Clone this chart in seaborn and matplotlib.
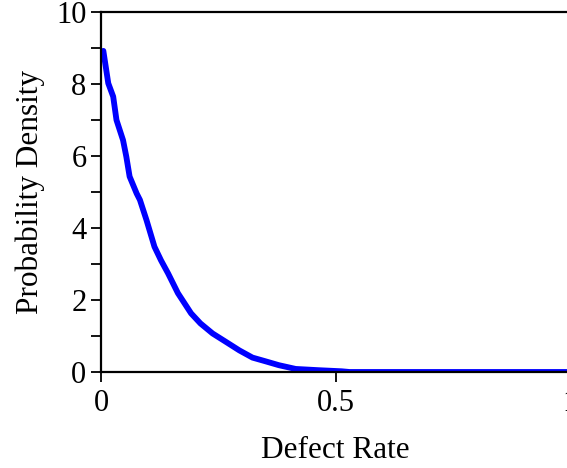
import matplotlib
matplotlib.use("Agg")
import matplotlib.pyplot as plt
import seaborn as sns
import pandas as pd
from matplotlib.ticker import MultipleLocator

sns.set_style("ticks")
plt.rcParams['font.family'] = ['Liberation Serif', 'DejaVu Serif']
plt.rcParams['text.color'] = 'black'
plt.rcParams['axes.labelcolor'] = 'black'
plt.rcParams['xtick.color'] = 'black'
plt.rcParams['ytick.color'] = 'black'

defect_rate = [0.005, 0.0155, 0.026, 0.033, 0.047, 0.054, 0.061, 0.076, 0.083,
               0.097, 0.114, 0.128, 0.143, 0.164, 0.192, 0.212, 0.238, 0.266,
               0.295, 0.323, 0.35, 0.379, 0.415, 0.464, 0.513, 0.53, 0.6, 0.7,
               0.8, 0.9, 1.0]
density = [8.92, 8.02, 7.65, 7.0, 6.44, 5.98, 5.43, 4.96, 4.78,
           4.22, 3.48, 3.1, 2.74, 2.19, 1.63, 1.35, 1.07, 0.84,
           0.6, 0.4, 0.3, 0.19, 0.085, 0.05, 0.02, 0.0, 0.0, 0.0,
           0.0, 0.0, 0.0]

x_ticks = [0, 0.5, 1]
x_labels = ["0", "0.5", "1"]
y_ticks = [0, 2, 4, 6, 8, 10]
y_labels = ["0", "2", "4", "6", "8", "10"]

df = pd.DataFrame({"Defect Rate": defect_rate, "Probability Density": density})

fig = plt.figure(figsize=(5.67, 4.68), dpi=100)
ax = fig.add_axes([101/567, 96/468, 469/567, 360/468])

sns.lineplot(data=df, x="Defect Rate", y="Probability Density", ax=ax,
             color="#0000ff", linewidth=4.2, sort=False)

ax.set_xlim(0, 1)
ax.set_ylim(0, 10)
ax.set_xticks(x_ticks)
ax.set_xticklabels(x_labels)
ax.set_yticks(y_ticks)
ax.set_yticklabels(y_labels)
ax.yaxis.set_minor_locator(MultipleLocator(1))

for side in ["left", "bottom", "top"]:
    ax.spines[side].set_linewidth(1.6)
    ax.spines[side].set_color("black")
ax.spines["right"].set_visible(False)

ax.tick_params(axis="both", which="both", direction="out", length=7.5,
               width=1.3, color="black", labelcolor="black", labelsize=22,
               top=False, right=False)
ax.tick_params(axis="x", pad=5)
ax.tick_params(axis="y", pad=3)

ax.set_xlabel("Defect Rate", fontsize=22.5, labelpad=13, color="black")
ax.set_ylabel("Probability Density", fontsize=22.5, labelpad=8, color="black")

fig.savefig("out.png", dpi=100)
